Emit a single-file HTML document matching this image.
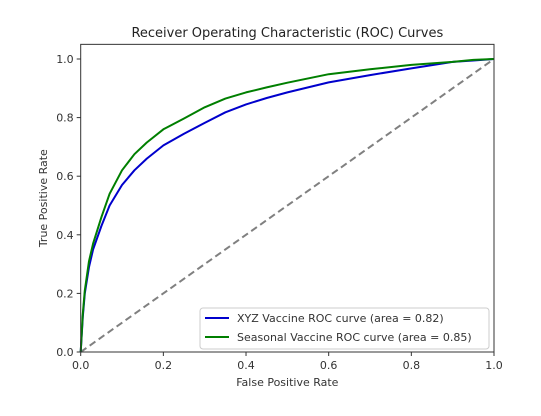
<!DOCTYPE html>
<html><head><meta charset="utf-8"><style>
body{margin:0;background:#fff;}
svg{display:block;font-family:"DejaVu Sans","Liberation Sans",sans-serif;}
</style></head><body>
<svg id="chart" width="541" height="416"></svg>
<script>
const fprXYZ=[0,0.005,0.01,0.02,0.03,0.05,0.07,0.1,0.13,0.16,0.2,0.25,0.3,0.35,0.4,0.45,0.5,0.6,0.7,0.8,0.9,0.95,1.0];
const tprXYZ=[0,0.12,0.2,0.29,0.35,0.43,0.5,0.57,0.62,0.66,0.705,0.745,0.782,0.818,0.845,0.867,0.886,0.92,0.945,0.968,0.99,0.995,1.0];
const fprSea=[0,0.005,0.01,0.02,0.03,0.05,0.07,0.1,0.13,0.16,0.2,0.25,0.3,0.35,0.4,0.45,0.5,0.6,0.7,0.8,0.9,0.95,1.0];
const tprSea=[0,0.13,0.21,0.31,0.37,0.46,0.54,0.62,0.675,0.715,0.76,0.797,0.835,0.865,0.886,0.903,0.919,0.948,0.965,0.98,0.99,0.997,1.0];
const xTicks=[0,0.2,0.4,0.6,0.8,1.0];
const yTicks=[0,0.2,0.4,0.6,0.8,1.0];
const X0=80.7,X1=494,Y0=352,Y1=59;
const sx=v=>X0+v*(X1-X0);
const sy=v=>Y0-v*(Y0-Y1);
const svg=document.getElementById('chart');
const NS='http://www.w3.org/2000/svg';
function mk(t,a,txt){const e=document.createElementNS(NS,t);for(const k in a)e.setAttribute(k,a[k]);if(txt!==undefined)e.textContent=txt;svg.appendChild(e);return e;}
const topY=sy(1.05);
let e;
e=mk('line',{x1:sx(0),y1:sy(0),x2:sx(1),y2:sy(1),stroke:'#808080','stroke-width':2,'stroke-dasharray':'7,4'});


function path(xs,ys,c,n){const d=xs.map((x,i)=>(i?'L':'M')+sx(x).toFixed(1)+','+sy(ys[i]).toFixed(1)).join('');
const p=mk('path',{d:d,fill:'none',stroke:c,'stroke-width':2,'stroke-linejoin':'round'});

}
path(fprXYZ,tprXYZ,'#0000cc','xyz-roc-curve');
path(fprSea,tprSea,'#007f00','seasonal-roc-curve');
e=mk('rect',{x:X0,y:topY,width:X1-X0,height:Y0-topY,fill:'none',stroke:'#333','stroke-width':1});


xTicks.forEach(v=>{mk('line',{x1:sx(v),y1:Y0,x2:sx(v),y2:Y0+4,stroke:'#333'});
const t=mk('text',{x:sx(v),y:Y0+17,'font-size':11,'text-anchor':'middle',fill:'#333'},v.toFixed(1));

});
yTicks.forEach(v=>{mk('line',{x1:X0-4,y1:sy(v),x2:X0,y2:sy(v),stroke:'#333'});
const t=mk('text',{x:X0-7,y:sy(v)+4,'font-size':11,'text-anchor':'end',fill:'#333'},v.toFixed(1));

});
e=mk('text',{x:(X0+X1)/2,y:386,'font-size':11,'text-anchor':'middle',fill:'#333'},'False Positive Rate');


e=mk('text',{x:0,y:0,'font-size':11,'text-anchor':'middle',fill:'#333',transform:'translate(47,'+((Y0+topY)/2)+') rotate(-90)'},'True Positive Rate');


e=mk('text',{x:(X0+X1)/2,y:37,'font-size':13,'text-anchor':'middle',fill:'#222'},'Receiver Operating Characteristic (ROC) Curves');


e=mk('rect',{x:200,y:308,width:289,height:41,rx:3,fill:'#fff','fill-opacity':0.9,stroke:'#ccc'});


mk('line',{x1:205,y1:318,x2:229,y2:318,stroke:'#0000cc','stroke-width':2});
e=mk('text',{x:237,y:322,'font-size':11,fill:'#333'},'XYZ Vaccine ROC curve (area = 0.82)');


mk('line',{x1:205,y1:337,x2:229,y2:337,stroke:'#007f00','stroke-width':2});
e=mk('text',{x:237,y:341,'font-size':11,fill:'#333'},'Seasonal Vaccine ROC curve (area = 0.85)');


</script>
</body></html>
